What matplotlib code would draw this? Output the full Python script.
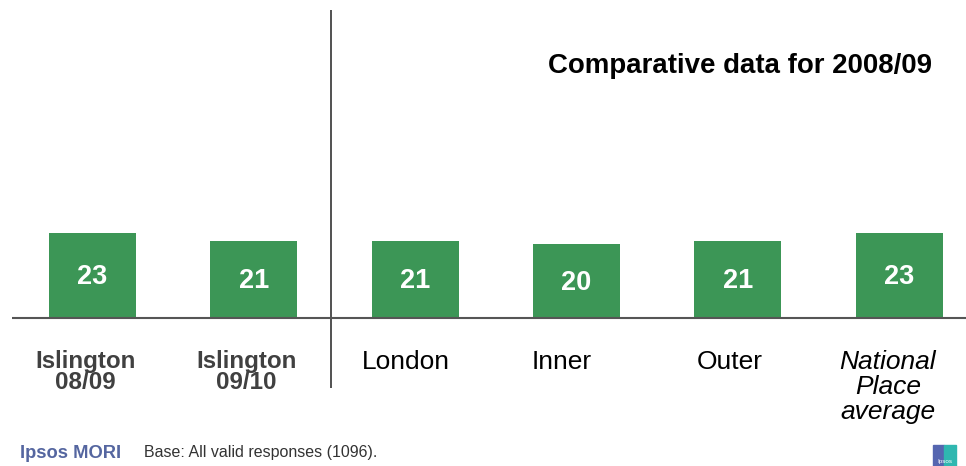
import matplotlib
matplotlib.use("Agg")
import matplotlib.pyplot as plt
from matplotlib.patches import Rectangle

plt.rcParams['font.family'] = ['Liberation Sans', 'DejaVu Sans']

categories = ["Islington\n08/09", "Islington\n09/10", "London", "Inner", "Outer",
              "National\nPlace\naverage"]
values = [23, 21, 21, 20, 21, 23]
title = "Comparative data for 2008/09"
base_note = "Base: All valid responses (1096)."

bar_color = "#3c9656"

fig = plt.figure(figsize=(9.66, 4.66), dpi=100)
ax = fig.add_axes([0, 0, 1, 1])
ax.set_xlim(-0.5735, 5.415)
ax.set_ylim(-40.1, 86.2)
ax.axis("off")

x = list(range(len(values)))
bars = ax.bar(x, values, width=0.54, color=bar_color, zorder=2)

for xi, v in zip(x, values):
    ax.text(xi, v / 2 - 0.4, str(v), ha="center", va="center", color="white",
            fontsize=19.5, fontweight="bold", zorder=3)

# baseline and divider between Islington and comparison areas
ax.hlines(0, -0.5, 5.415, color="#555555", lw=1.5, zorder=3)
ax.vlines(1.48, -19.0, 83.5, color="#333333", lw=1.2)

label_y = -8.6
offsets = [-0.045, -0.045, -0.06, -0.09, -0.05, -0.07]
for i, lab in enumerate(categories):
    xpos = i + offsets[i]
    if i < 2:
        ax.text(xpos, label_y, lab, ha="center", va="top", fontsize=17.4,
                fontweight="bold", color="#404040", linespacing=0.92)
    elif i == 5:
        ax.text(xpos, label_y, lab, ha="center", va="top", fontsize=19,
                style="italic", color="black", linespacing=1.05)
    else:
        ax.text(xpos, label_y, lab, ha="center", va="top", fontsize=19,
                color="black")

fig.text(548 / 966, 1 - 66 / 466, title, ha="left", va="center",
         fontsize=19.9, fontweight="bold", color="black")

fig.text(20 / 966, 1 - 453 / 466, "Ipsos MORI", ha="left", va="center",
         fontsize=13.2, fontweight="bold", color="#5566a0")
fig.text(144 / 966, 1 - 453 / 466, base_note, ha="left", va="center",
         fontsize=11.5, color="#333333")

# small corner logo
fig.add_artist(Rectangle((933 / 966, 0), 11 / 966, 21 / 466,
                         transform=fig.transFigure, color="#5566b0"))
fig.add_artist(Rectangle((944 / 966, 0), 12 / 966, 21 / 466,
                         transform=fig.transFigure, color="#2fb7b0"))
fig.text(944.5 / 966, 2 / 466, "Ipsos", ha="center", va="bottom",
         fontsize=4.5, color="white")

fig.savefig("out.png", dpi=100)
